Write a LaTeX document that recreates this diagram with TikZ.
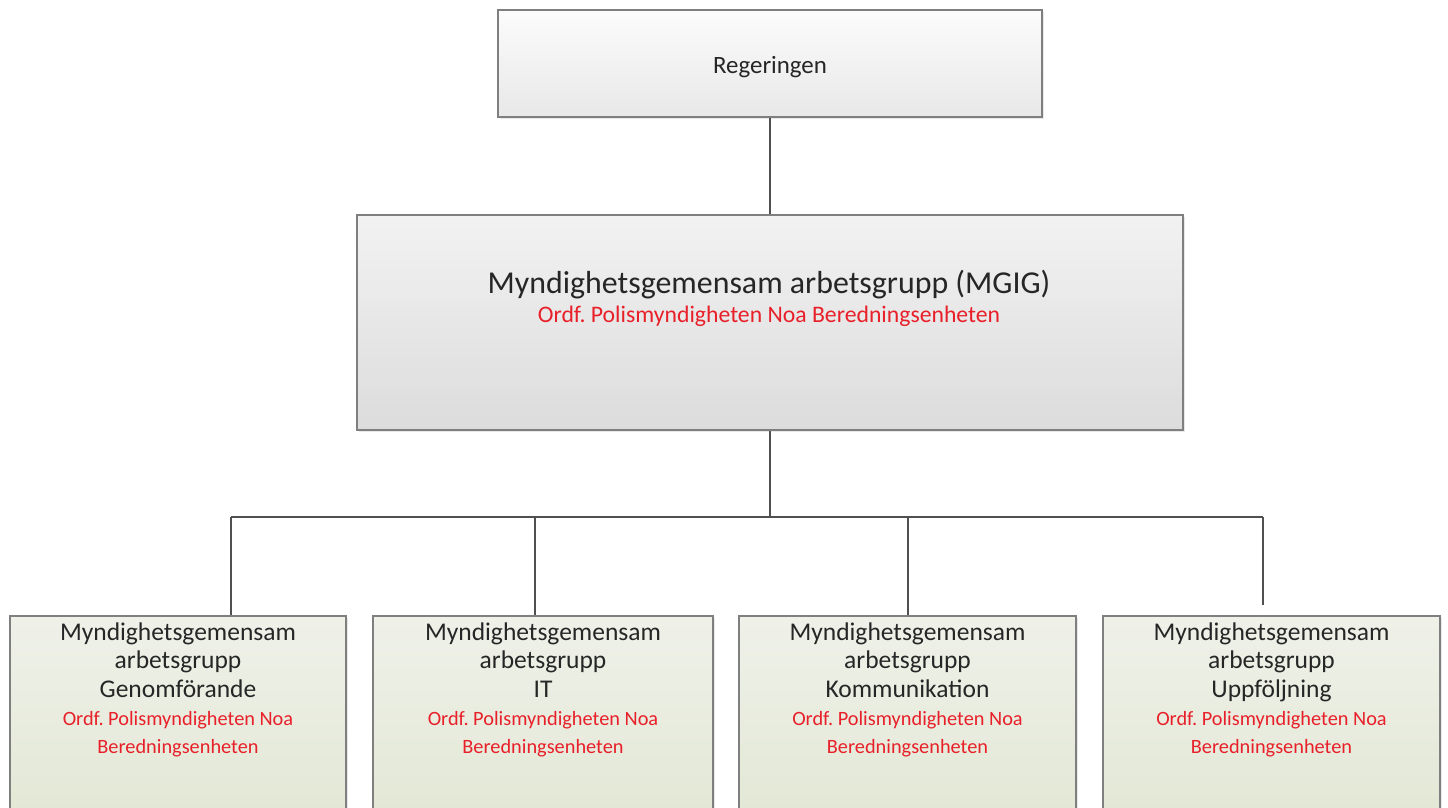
\documentclass[tikz,border=0pt]{standalone}
\usepackage{fontspec}
\setmainfont{Carlito}
\usetikzlibrary{shadows}
\definecolor{bordergray}{HTML}{7F7F7F}
\definecolor{linegray}{HTML}{505050}
\definecolor{txtdark}{HTML}{262626}
\definecolor{txtred}{RGB}{232,32,42}
\definecolor{topA}{HTML}{FCFCFC}
\definecolor{topB}{HTML}{E8E8E8}
\definecolor{midA}{HTML}{F2F2F2}
\definecolor{midB}{HTML}{DCDCDC}
\definecolor{grnA}{HTML}{EFF1E9}
\definecolor{grnB}{HTML}{E2E7D4}
\tikzset{
  box/.style={draw=bordergray, line width=1bp, rectangle, inner sep=0pt,
    drop shadow={opacity=0.18, shadow xshift=1.2bp, shadow yshift=-1.2bp}},
  topbox/.style={box, top color=topA, bottom color=topB},
  midbox/.style={box, top color=midA, bottom color=midB},
  grnbox/.style={box, top color=grnA, bottom color=grnB},
  conn/.style={draw=linegray, line width=1bp},
  lbl/.style={text=txtdark, align=center, inner sep=0pt},
}
\newcommand{\rd}[1]{{\color{txtred}\fontsize{10.2}{14.25}\selectfont #1}}
\frenchspacing
\begin{document}
\begin{tikzpicture}[x=0.5bp,y=-0.5bp]
\useasboundingbox (0,0) rectangle (1448,807);
% top
\node[topbox, minimum width=272bp, minimum height=53.5bp] (reg) at (770,63.5) {};
\node[lbl, font=\fontsize{12.5}{15}\selectfont] (regt) at (770,67) {Regeringen};
% middle
\node[midbox, minimum width=413bp, minimum height=107.5bp] (mgig) at (770,322.5) {};
\node[lbl, font=\fontsize{16}{14.5}\selectfont] (mgigt) at (769,298)
  {Myndighetsgemensam arbetsgrupp (MGIG)\\{\color{txtred}\fontsize{11.9}{14.5}\selectfont Ordf. Polismyndigheten Noa Beredningsenheten}};
% bottom boxes
\node[grnbox, minimum width=168bp, minimum height=107bp] (g1) at (178,723) {};
\node[grnbox, minimum width=170bp, minimum height=107bp] (g2) at (543,723) {};
\node[grnbox, minimum width=168.5bp, minimum height=107bp] (g3) at (907.5,723) {};
\node[grnbox, minimum width=168.5bp, minimum height=107bp] (g4) at (1271.5,723) {};
\foreach \n/\x/\t in {1/178/Genomförande, 2/543/IT, 3/907.5/Kommunikation, 4/1271.5/Uppföljning}{
  \node[lbl, font=\fontsize{12.8}{14.25}\selectfont] (g\n t) at (\x,690)
    {Myndighetsgemensam\\arbetsgrupp\\\t\\\rd{Ordf. Polismyndigheten Noa}\\\rd{Beredningsenheten}};
}
% connectors
\draw[conn] (reg.south) -- (mgig.north);
\coordinate (b1) at (231,517);
\coordinate (b2) at (535,517);
\coordinate (b3) at (908,517);
\coordinate (b4) at (1263,517);
\coordinate (e4) at (1263,605);
\draw[conn] (mgig.south) -- (mgig.south |- b1);
\draw[conn] (b1) -- (b4);
\draw[conn] (b1) -- (b1 |- g1.north);
\draw[conn] (b2) -- (b2 |- g2.north);
\draw[conn] (b3) -- (b3 |- g3.north);
\draw[conn] (b4) -- (e4);
\end{tikzpicture}
\end{document}
